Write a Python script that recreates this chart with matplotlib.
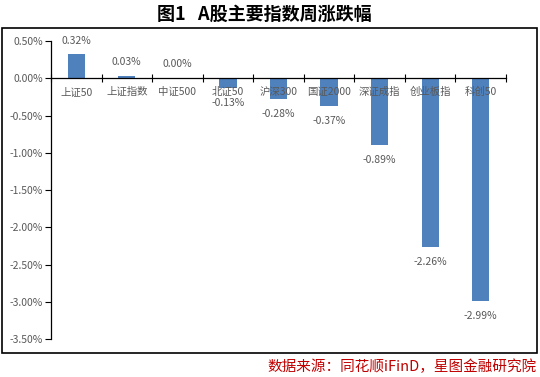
import matplotlib
matplotlib.use("Agg")
import matplotlib.pyplot as plt
from matplotlib.patches import Rectangle
import numpy as np

plt.rcParams['font.family'] = ['Noto Sans CJK SC', 'DejaVu Sans']

categories = ["上证50", "上证指数", "中证500", "北证50", "沪深300", "国证2000", "深证成指", "创业板指", "科创50"]
values = [0.32, 0.03, 0.00, -0.13, -0.28, -0.37, -0.89, -2.26, -2.99]
yticks = [0.5, 0.0, -0.5, -1.0, -1.5, -2.0, -2.5, -3.0, -3.5]

fig = plt.figure(figsize=(5.4, 3.77), dpi=100)
ax = fig.add_axes([0.0944, 0.1008, 0.8426, 0.7902])

x = np.arange(len(categories))
ax.bar(x, values, width=0.34, color="#4F81BD", zorder=2)
ax.set_xlim(-0.5, len(categories) - 0.5)
ax.set_ylim(-3.5, 0.5)

grey = "#595959"
ax.set_yticks(yticks)
ax.set_yticklabels([f"{v:.2f}%" for v in yticks], fontsize=7.5, color=grey)
ax.tick_params(axis='y', direction='out', length=4, width=0.8, pad=2)

for s in ['top', 'right']:
    ax.spines[s].set_visible(False)
ax.spines['left'].set_linewidth(0.9)
ax.spines['bottom'].set_position(('data', 0))
ax.spines['bottom'].set_linewidth(0.9)
ax.set_xticks(np.arange(len(categories) + 1) - 0.5)
ax.set_xticklabels([])
ax.tick_params(axis='x', direction='inout', length=6, width=0.8)

for i, (c, v) in enumerate(zip(categories, values)):
    ax.annotate(c, (i, 0), xytext=(0, -10), textcoords='offset points',
                ha='center', va='center', fontsize=7.5, color=grey, zorder=3)
    if v >= 0:
        ax.annotate(f"{v:.2f}%", (i, v), xytext=(0, 10), textcoords='offset points',
                    ha='center', va='center', fontsize=7.5, color=grey)
    else:
        ax.annotate(f"{v:.2f}%", (i, v), xytext=(0, -11), textcoords='offset points',
                    ha='center', va='center', fontsize=7.5, color=grey)

fig.patches.append(Rectangle((0.0037, 0.0637), 0.9907, 0.862, transform=fig.transFigure,
                             fill=False, edgecolor='black', linewidth=1.2))

fig.text(0.49, 0.963, "图1   A股主要指数周涨跌幅", ha='center', va='center',
         fontsize=13, fontweight='bold', color='black')
fig.text(0.993, 0.028, "数据来源：同花顺iFinD，星图金融研究院", ha='right', va='center',
         fontsize=10.5, style='italic', color='#C00000')

fig.savefig("out.png", dpi=100)
